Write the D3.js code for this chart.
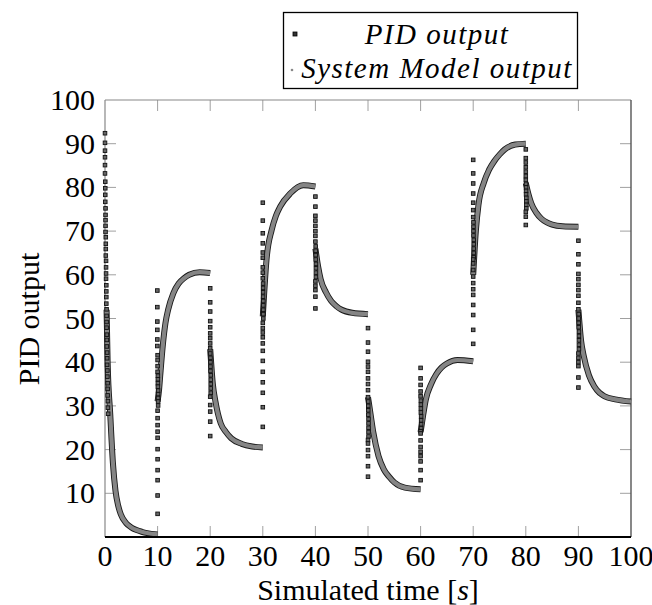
<!DOCTYPE html>
<html><head><meta charset="utf-8"><script src="https://cdn.jsdelivr.net/npm/d3@7"></script></head>
<body style="margin:0">
<svg id="chart" width="652" height="605"></svg>
<script>
// x ticks / y ticks
const xTicks = [0, 10, 20, 30, 40, 50, 60, 70, 80, 90, 100];
const yTicks = [10, 20, 30, 40, 50, 60, 70, 80, 90, 100];

// PID output samples [time, value]
const pidData = [
  [0,92.4],[0,90.2],[0,88.4],[0,86.9],[0,85.1],[0,83.2],[0.05,81.3],[0.05,79.8],[0.05,78.3],[0.05,76.7],
  [0.1,75.2],[0.1,73.7],[0.1,72.5],[0.1,71.2],[0.1,69.8],[0.15,68.6],[0.15,67.1],[0.15,65.9],[0.15,64.4],
  [0.2,63.2],[0.2,61.7],[0.2,60.3],[0.2,59.1],[0.25,57.6],[0.25,56.2],[0.25,54.9],[0.25,53.4],[0.3,52.1],
  [0.3,50.6],[0.3,49.2],[0.3,47.9],[0.35,46.3],[0.35,45.1],[0.35,43.6],[0.4,42.2],[0.4,40.9],[0.4,39.4],
  [0.45,38.1],[0.45,36.7],[0.5,35.2],[0.5,33.9],[0.5,32.4],[0.55,31.1],[0.55,29.6],[0.6,28.2],
  // step at 10
  [9.95,56.4],[9.95,52.6],[9.95,49.3],[9.95,47.4],[9.95,45.2],[9.95,43.7],[10,41.6],[10,40.5],[10,39.1],
  [10,37.8],[10.05,36.9],[10.05,36.1],[10.05,35.2],[10.05,34.4],[10.1,33.5],[10.1,32.7],[10.1,31.8],
  [10.1,31],[10.1,30.1],[10,28.9],[10,27.2],[10,25.6],[10,24.1],[10,22.7],[10,20.1],[10,17.8],[10,15.3],
  [10,13],[10,9.5],[10,5.3],
  // step at 20
  [20,56.9],[20,53.7],[20,51.6],[20,49.4],[20,48],[20,46.6],[20,45.5],[20,44.3],[20,43.2],[20,42],
  [20.05,41],[20.05,40],[20.05,39],[20.05,38],[20.1,37],[20.1,36],[20.1,35],[20.1,34],[20.1,33],
  [20,32.1],[20,30.2],[20,28.7],[20,26.4],[20,23.1],
  // step at 30
  [30,76.5],[30,72.4],[30,69.5],[30,67.2],[30,65.1],[30,63.9],[30,61.7],[30,60.5],[30,59.2],
  [30.05,58],[30.05,57],[30.05,56],[30.05,55],[30.1,54],[30.1,53],[30.1,52],[30.1,51],[30.1,50],
  [30,49],[30,47.8],[30,46.8],[30,45.7],[30,44.3],[30,42.6],[30,40.3],[30,37.8],[30,35.4],[30,33],
  [30,29.7],[30,25.2],
  // step at 40
  [40,77.9],[40,75.6],[40,73.5],[40,72.4],[40,71.2],[40,70],[40,68.9],[40,67.6],
  [40.05,66.5],[40.05,65.5],[40.05,64.5],[40.05,63.5],[40.1,62.5],[40.1,61.5],[40.1,60.5],[40.1,59.5],
  [40,58.5],[40,57.5],[40,56.5],[40,55],[40,52.3],
  // step at 50
  [50,47.8],[50,44.5],[50,42.4],[50,40.1],[50,39],[50,37.8],[50,36.3],[50,35],[50,33.6],[50,32],
  [50.05,31],[50.05,30],[50.05,29],[50.05,28],[50.1,27],[50.1,26],[50.1,25],[50.1,24],[50.1,23],
  [50,22.2],[50,21.4],[50,19.9],[50,18.5],[50,16.2],[50,13.8],
  // step at 60
  [60,38.7],[60,36.3],[60,34.8],[60,33.3],[60,32.2],
  [60.05,31.2],[60.05,30.3],[60.05,29.4],[60.05,28.5],[60.1,27.6],[60.1,26.7],[60.1,25.8],[60.1,24.9],
  [60,24.2],[60,23.7],[60,22.1],[60,20.6],[60,19.5],[60,18.5],[60,17.3],[60,15.3],[60,13],
  // step at 70
  [70,86.3],[70,83.2],[70,80.9],[70,78.6],[70,76.5],[70,74.8],[70,73.2],
  [70.05,72],[70.05,71],[70.05,70],[70.05,69],[70.1,68],[70.1,67],[70.1,66],[70.1,65],[70.1,64],
  [70,63.5],[70,62.6],[70,61.1],[70,59.6],[70,58.1],[70,56.7],[70,55.4],[70,53.1],[70,50.8],[70,47.4],
  [70,44.2],
  // step at 80
  [80,88.7],[80,86.7],[80,85.7],[80,84.6],[80,83.6],[80,82.6],[80,81.7],
  [80.05,80.8],[80.05,80],[80.05,79.2],[80.05,78.4],[80.1,77.6],[80.1,76.8],[80.1,76],[80.1,75.2],
  [80,74.4],[80,73.3],[80,71.4],
  // step at 90
  [90,67.8],[90,64.7],[90,62.4],[90,60.2],[90,59],[90,57.7],[90,56.5],[90,55.2],[90,53.6],[90,52.1],
  [90.05,51],[90.05,50],[90.05,49],[90.05,48],[90.1,47],[90.1,46],[90.1,45],[90.1,44],[90.1,43],
  [90,42],[90,41],[90,40],[90,39.1],[90,36.5],[90,34.2]
];

// System model output, one list per 10 s segment [time, value]
const modelSegments = [
  [[0.3,52],[0.5,40],[1,28],[1.5,17],[2,10.5],[2.5,7.2],[3,5.2],[4,3.2],[5,2.2],[6,1.6],[7,1.2],[8,0.9],[10,0.6]],
  [[10,31],[10.3,34],[10.5,37],[11,44],[11.5,49],[12,52],[13,55.8],[14,58],[15,59.2],[16,60],[18,60.6],[20,60.4]],
  [[20,43],[20.5,35],[21,31],[22,26],[23,24],[24,22.6],[26,21.3],[28,20.7],[30,20.5]],
  [[30,50.5],[30.7,63.4],[31.7,70.3],[32.5,73.5],[33.3,75.6],[35.2,78.6],[37.7,80.5],[40,80.2]],
  [[40,66],[40.5,62],[41,59],[42,56],[43,54],[44,52.8],[45,52],[47,51.3],[50,51]],
  [[50,32],[50.5,28],[51,24],[52,18.5],[53,15.5],[54,13.8],[55,12.5],[57,11.3],[60,10.9]],
  [[60,24],[60.5,28],[61,31.5],[62,35],[63,37.3],[64,38.8],[65,39.7],[67,40.5],[70,40.2]],
  [[70,60],[70.5,70],[71,76],[72,81],[73,84],[74,86],[75,87.5],[76,88.7],[78,89.8],[80,90]],
  [[80,81],[80.5,78.5],[81,76.5],[82,74.2],[83,72.8],[84,72],[85,71.5],[87,71.1],[90,71]],
  [[90,52],[90.5,45],[91,41.5],[92,37],[93,34.5],[94,33],[95,32.2],[97,31.5],[100,31]]
];

const legendLabels = ["PID output", "System Model output"];

const plot = { left: 105, right: 631, top: 100, bottom: 537 };
const face = "Liberation Serif";

const svg = d3.select("#chart");

const x = d3.scaleLinear().domain([0, 100]).range([plot.left, plot.right]);
const y = d3.scaleLinear().domain([0, 100]).range([plot.bottom, plot.top]);

const tickLen = 11;
const grid = svg.append("g").attr("stroke", "#a0a0a0").attr("stroke-width", 1);

// inward ticks on all four sides
xTicks.slice(1, -1).forEach(t => {
    grid.append("line").attr("x1", x(t)).attr("x2", x(t)).attr("y1", plot.bottom).attr("y2", plot.bottom - tickLen);
    grid.append("line").attr("x1", x(t)).attr("x2", x(t)).attr("y1", plot.top).attr("y2", plot.top + tickLen);
});
yTicks.slice(0, -1).forEach(t => {
    grid.append("line").attr("y1", y(t)).attr("y2", y(t)).attr("x1", plot.left).attr("x2", plot.left + tickLen);
    grid.append("line").attr("y1", y(t)).attr("y2", y(t)).attr("x1", plot.right).attr("x2", plot.right - tickLen);
});

// frame
svg.append("line").attr("x1", plot.left).attr("x2", plot.right).attr("y1", plot.top).attr("y2", plot.top)
    .attr("stroke", "#888").attr("stroke-width", 1.2);
svg.append("line").attr("x1", plot.left).attr("x2", plot.left).attr("y1", plot.top).attr("y2", plot.bottom)
    .attr("stroke", "#888").attr("stroke-width", 1.2);
svg.append("line").attr("x1", plot.right).attr("x2", plot.right).attr("y1", plot.top).attr("y2", plot.bottom)
    .attr("stroke", "#555").attr("stroke-width", 1.4);

// model output band
const line = d3.line().x(d => x(d[0])).y(d => y(d[1])).curve(d3.curveMonotoneX);
const model = svg.append("g");
model.selectAll("path.edge").data(modelSegments).join("path")
    .attr("class", "edge").attr("d", line)
    .attr("fill", "none").attr("stroke", "#1a1a1a").attr("stroke-width", 6)
    .attr("stroke-linejoin", "round");
model.selectAll("path.core").data(modelSegments).join("path")
    .attr("class", "core").attr("d", line)
    .attr("fill", "none").attr("stroke", "#858585").attr("stroke-width", 4.2)
    .attr("stroke-linejoin", "round");

// PID markers
const sq = 3.6;
svg.append("g").selectAll("rect").data(pidData).join("rect")
    .attr("x", d => x(d[0]) - sq / 2)
    .attr("y", d => y(d[1]) - sq / 2)
    .attr("width", sq).attr("height", sq)
    .attr("fill", "#666").attr("stroke", "#111").attr("stroke-width", 0.9);

// bottom axis line drawn last
svg.append("line").attr("x1", plot.left).attr("x2", plot.right).attr("y1", plot.bottom).attr("y2", plot.bottom)
    .attr("stroke", "#000").attr("stroke-width", 1.8);

// tick labels
svg.selectAll("text.xt").data(xTicks).join("text")
    .attr("class", "xt")
    .attr("x", d => x(d)).attr("y", 566)
    .attr("text-anchor", "middle").attr("font-size", 30)
    .style("font-family", d => `"${face}"`)
    .text(d => d);
svg.selectAll("text.yt").data(yTicks).join("text")
    .attr("class", "yt")
    .attr("x", 95).attr("y", d => y(d) + 10)
    .attr("text-anchor", "end").attr("font-size", 30)
    .style("font-family", d => `"${face}"`)
    .text(d => d);

// axis titles
const xt = svg.append("text").attr("x", 368).attr("y", 600)
    .attr("text-anchor", "middle").attr("font-size", 30)
    .style("font-family", `"${face}"`);
xt.append("tspan").text("Simulated time [");
xt.append("tspan").attr("font-style", "italic").text("s");
xt.append("tspan").text("]");

svg.append("text")
    .attr("transform", "translate(39,319) rotate(-90)")
    .attr("text-anchor", "middle").attr("font-size", 30)
    .style("font-family", `"${face}"`)
    .text("PID output");

// legend
svg.append("rect").attr("x", 283.5).attr("y", 12.5).attr("width", 294).attr("height", 76)
    .attr("fill", "#fff").attr("stroke", "#000").attr("stroke-width", 1.3);
svg.append("rect").attr("x", 293).attr("y", 32).attr("width", 4).attr("height", 4)
    .attr("fill", "#333").attr("stroke", "#000").attr("stroke-width", 0.8);
svg.append("circle").attr("cx", 292).attr("cy", 70).attr("r", 1.3).attr("fill", "#888");
svg.selectAll("text.lab").data(legendLabels).join("text")
    .attr("class", "lab")
    .attr("x", 437).attr("y", (d, i) => 44 + i * 34)
    .attr("text-anchor", "middle").attr("font-size", 29).attr("font-style", "italic")
    .attr("letter-spacing", 1.5)
    .style("font-family", d => `"${face}"`)
    .text(d => d);
</script>
</body>
</html>
